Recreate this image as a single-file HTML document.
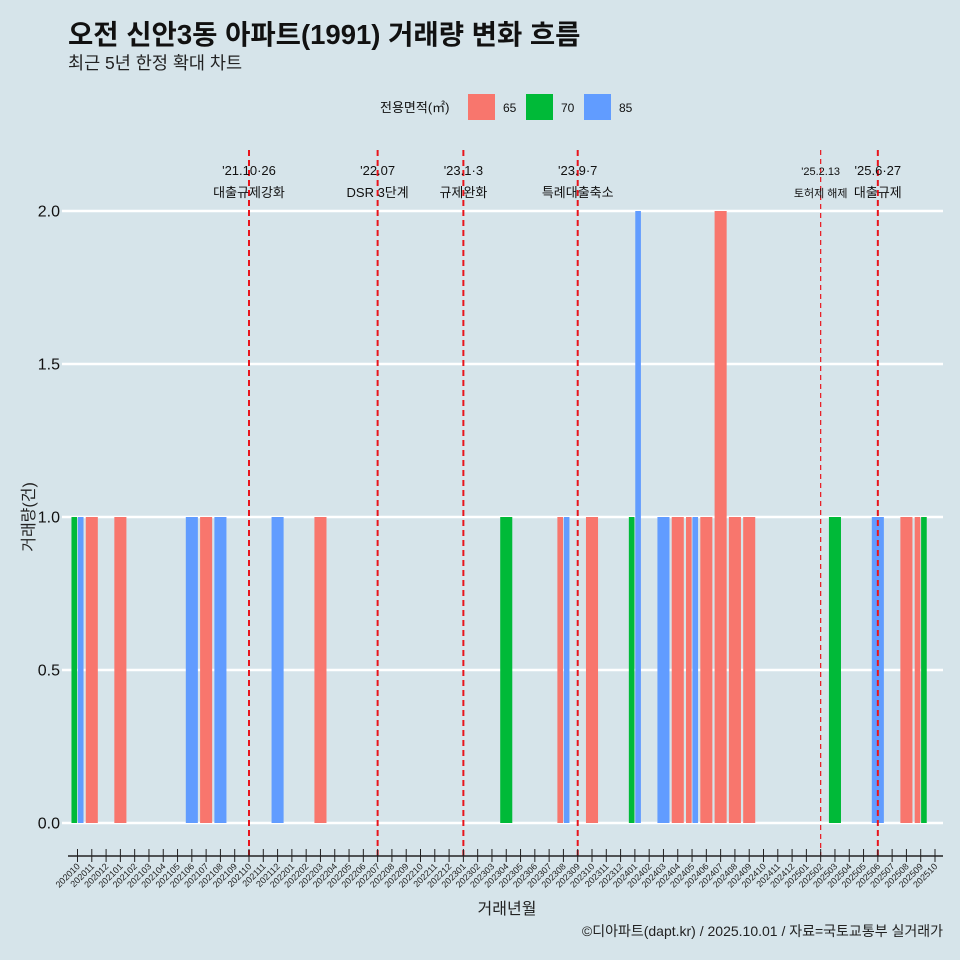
<!DOCTYPE html>
<html><head><meta charset="utf-8"><style>
body{margin:0;background:#d6e4ea;}
svg{display:block;font-family:"Liberation Sans","Noto Sans CJK KR",sans-serif;}
</style></head><body>
<svg id="chart" width="960" height="960" viewBox="0 0 960 960">
<rect width="960" height="960" fill="#d6e4ea"/>
<text x="68" y="44" font-size="27.5" font-weight="bold" fill="#111">오전 신안3동 아파트(1991) 거래량 변화 흐름</text>
<text x="68" y="69" font-size="17.5" fill="#222">최근 5년 한정 확대 차트</text>
<g>
<text x="380" y="112" font-size="13" fill="#111">전용면적(㎡)</text>
<rect x="468" y="94" width="27" height="26" fill="#f8766d"/>
<text x="503" y="112" font-size="12" fill="#111">65</text>
<rect x="526" y="94" width="27" height="26" fill="#00ba38"/>
<text x="561" y="112" font-size="12" fill="#111">70</text>
<rect x="584" y="94" width="27" height="26" fill="#619cff"/>
<text x="619" y="112" font-size="12" fill="#111">85</text>
</g>
<g id="grid"></g><g id="bars"></g><g id="events"></g><g id="xaxis"></g>
<text x="0" y="0" transform="translate(34,517) rotate(-90)" text-anchor="middle" font-size="16" fill="#222">거래량(건)</text>
<text x="507" y="914" text-anchor="middle" font-size="16" fill="#222">거래년월</text>
<text x="943" y="936" text-anchor="end" font-size="14" fill="#222">©디아파트(dapt.kr) / 2025.10.01 / 자료=국토교통부 실거래가</text>
</svg>
<script>
const types = ["65","70","85"];
const colors = {"65":"#f8766d","70":"#00ba38","85":"#619cff"};
const barMonths = ["202010","202010","202011","202101","202106","202107","202108","202112","202203","202304","202308","202308","202310","202401","202401","202403","202404","202405","202405","202406","202407","202408","202409","202503","202506","202508","202509","202509"];
const barTypes  = ["70","85","65","65","85","65","85","85","65","70","65","85","65","70","85","85","65","65","85","65","65","65","65","70","85","65","65","70"];
const barValues = [1,1,1,1,1,1,1,1,1,1,1,1,1,1,2,1,1,1,1,1,2,1,1,1,1,1,1,1];
const yTicks = [0,0.5,1,1.5,2];
const yTickLabels = ["0.0","0.5","1.0","1.5","2.0"];
const eventMonths = ["202110","202207","202301","202309","202502","202506"];
const eventDates = ["'21.10·26","'22.07","'23.1·3","'23.9·7","'25.2.13","'25.6·27"];
const eventNames = ["대출규제강화","DSR 3단계","규제완화","특례대출축소","토허제 해제","대출규제"];

const months=[];for(let y=2020,m=10;y*100+m<=202510;){months.push(String(y*100+m));m++;if(m>12){m=1;y++;}}
const NS="http://www.w3.org/2000/svg";
function mk(tag,attrs,parent){const e=document.createElementNS(NS,tag);for(const k in attrs)e.setAttribute(k,attrs[k]);parent.appendChild(e);return e;}
const x0=77.5,step=(935-77.5)/(months.length-1);
const xs=m=>x0+months.indexOf(m)*step;
const ys=v=>823-v*306;
const grid=document.getElementById('grid');
yTicks.forEach((t,i)=>{
 const l=mk('line',{x1:62,x2:943,y1:ys(t),y2:ys(t),stroke:'#fff','stroke-width':2.6},grid);
 
 
 const tx=mk('text',{x:60,y:ys(t)+5.5,'text-anchor':'end','font-size':16,fill:'#111'},grid);
 tx.textContent=yTickLabels[i];
 
 
});
const bars=document.getElementById('bars');
const bw=step*0.9;
barMonths.forEach((m,i)=>{
 const same=[];barMonths.forEach((mm,j)=>{if(mm===m)same.push(j);});
 const n=same.length,k=same.indexOf(i),w=bw/n;
 const x=xs(m)-bw/2+k*w;
 const r=mk('rect',{x:x+0.4,y:ys(barValues[i]),width:w-0.8,height:ys(0)-ys(barValues[i]),fill:colors[barTypes[i]]},bars);
 
 
});
const ev=document.getElementById('events');
eventMonths.forEach((m,i)=>{
 const x=xs(m);const thin=m==="202502";
 const l=mk('line',{x1:x,x2:x,y1:150,y2:856,stroke:'#e8141c','stroke-width':thin?1.2:2,'stroke-dasharray':thin?'5,4':'6,4'},ev);
 
 
 const fs=thin?11:13;
 const t1=mk('text',{x:x,y:175,'text-anchor':'middle','font-size':fs,fill:'#111'},ev);
 t1.textContent=eventDates[i];
 
 
 const t2=mk('text',{x:x,y:197,'text-anchor':'middle','font-size':fs,fill:'#111'},ev);
 t2.textContent=eventNames[i];
 
 
});
const xa=document.getElementById('xaxis');
const al=mk('line',{x1:68,x2:943,y1:856,y2:856,stroke:'#222','stroke-width':1.5},xa);


months.forEach(m=>{
 const x=xs(m);
 const t=mk('line',{x1:x,x2:x,y1:849,y2:862,stroke:'#222','stroke-width':1},xa);
 
 
 const tx=mk('text',{x:0,y:0,'text-anchor':'end','font-size':9,fill:'#222',transform:`translate(${x+3},${867}) rotate(-45)`},xa);
 tx.textContent=m;
 
 
});
</script>
</body></html>
